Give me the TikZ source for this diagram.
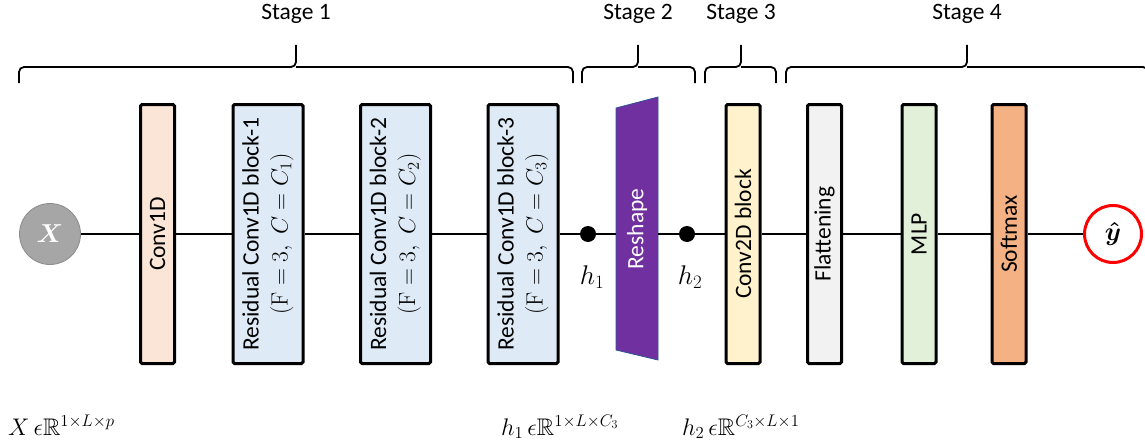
\RequirePackage{fix-cm}
\documentclass[tikz,border=0pt]{standalone}
\usepackage{amsmath,amssymb}
\usepackage[no-math]{fontspec}
\setmainfont{Carlito}
\newcommand\bsz{\fontsize{23.5pt}{29pt}\selectfont}
\newcommand\msz{\fontsize{24pt}{29pt}\selectfont}
\newcommand\hsz{\fontsize{27pt}{31pt}\selectfont}
\newcommand\bigsz{\fontsize{26pt}{30pt}\selectfont}
\definecolor{cconv}{HTML}{FBE5D6}
\definecolor{cres}{HTML}{DEEBF7}
\definecolor{cctwo}{HTML}{FFF2CC}
\definecolor{cflat}{HTML}{F2F2F2}
\definecolor{cmlp}{HTML}{E2F0D9}
\definecolor{csoft}{HTML}{F4B183}
\definecolor{cpurp}{HTML}{7030A0}
\definecolor{cpurpedge}{HTML}{2F5597}
\definecolor{cgrayfill}{HTML}{A6A6A6}
\definecolor{cgrayedge}{HTML}{8C8C8C}
\definecolor{cred}{HTML}{FF0000}
\begin{document}
\begin{tikzpicture}[x=1pt,y=-1pt,
  conn/.style={line width=2.8pt},
  blk/.style={draw, line width=3pt, rounded corners=1.5pt, rotate=90, minimum width=259pt, inner sep=0pt, align=center, font=\bsz},
  thinblk/.style={blk, minimum height=34pt},
  wideblk/.style={blk, minimum height=70pt},
  bracepath/.style={line width=1.8pt, rounded corners=5pt},
  stg/.style={font=\bsz},
  dotnode/.style={circle, fill=black, inner sep=0pt, minimum size=16pt},
  mathlbl/.style={font=\msz, inner sep=0pt},
  hlbl/.style={font=\hsz, inner sep=0pt},
  innode/.style={circle, fill=cgrayfill, draw=cgrayedge, line width=0.8pt, minimum size=61pt, inner sep=0pt, text=white, font=\bigsz},
  outnode/.style={circle, fill=white, draw=cred, line width=3pt, minimum size=57pt, inner sep=0pt, font=\bigsz},
]
\useasboundingbox (0,0) rectangle (1145,444);
\clip (0,0) rectangle (1145,444);

% stage labels
\node[stg] (s1) at (296,14) {Stage 1};
\node[stg] (s2) at (638,14) {Stage 2};
\node[stg] (s3) at (741,14) {Stage 3};
\node[stg] (s4) at (967,14) {Stage 4};

% braces
\draw[bracepath] (19,83) -- (19,67) -- (296,67) -- (296,45);
\draw[bracepath] (573,83) -- (573,67) -- (296,67);
\draw[bracepath] (582,83) -- (582,67) -- (638,67) -- (638,45);
\draw[bracepath] (695,83) -- (695,67) -- (638,67);
\draw[bracepath] (705,83) -- (705,67) -- (741,67) -- (741,45);
\draw[bracepath] (776,83) -- (776,67) -- (741,67);
\draw[bracepath] (786,83) -- (786,67) -- (967,67) -- (967,45);
\draw[bracepath] (1148,83) -- (1148,67) -- (967,67);

% reshape trapezoid
\draw[fill=cpurp, draw=cpurpedge, line width=0.8pt] (616,108) -- (658,97) -- (658,360) -- (616,350) -- cycle;
\node[inner sep=0pt, minimum width=42pt, minimum height=250pt] (rs) at (637,234) {};
\node[rotate=90, text=white, font=\bsz] (rst) at (637,229) {Reshape};

% input / output
\node[innode] (X) at (50,234) {$\boldsymbol{X}$};
\node[outnode] (yh) at (1113,234) {$\boldsymbol{\hat{y}}$};

% blocks
\node[thinblk, fill=cconv] (c1) at (157.5,234) {Conv1D};
\node[wideblk, fill=cres] (r1) at (268,234) {Residual Conv1D block-1\\$(\mathrm{F}=3,\; C=C_1)$};
\node[wideblk, fill=cres] (r2) at (395.5,234) {Residual Conv1D block-2\\$(\mathrm{F}=3,\; C=C_2)$};
\node[wideblk, fill=cres] (r3) at (523,234) {Residual Conv1D block-3\\$(\mathrm{F}=3,\; C=C_3)$};
\node[thinblk, fill=cctwo] (c2) at (743,234) {Conv2D block};
\node[thinblk, fill=cflat] (fl) at (824.5,234) {Flattening};
\node[thinblk, fill=cmlp] (mlp) at (919,234) {MLP};
\node[thinblk, fill=csoft] (sm) at (1009,234) {Softmax};

% dots
\node[dotnode] (h1) at (588,234) {};
\node[dotnode] (h2) at (687,234) {};
\node[hlbl] (h1l) at (592,277) {$h_1$};
\node[hlbl] (h2l) at (690,277) {$h_2$};

% connectors
\draw[conn] (X) -- (c1);
\draw[conn] (c1) -- (r1);
\draw[conn] (r1) -- (r2);
\draw[conn] (r2) -- (r3);
\draw[conn] (r3) -- (h1);
\draw[conn] (h1) -- (rs);
\draw[conn] (rs) -- (h2);
\draw[conn] (h2) -- (c2);
\draw[conn] (c2) -- (fl);
\draw[conn] (fl) -- (mlp);
\draw[conn] (mlp) -- (sm);
\draw[conn] (sm) -- (yh);

% bottom shape labels
\node[mathlbl, anchor=base west] (xs) at (8,435) {$X\,\epsilon\mathbb{R}^{1\times L\times p}$};
\node[mathlbl, anchor=base west] (h1s) at (501,435) {$h_1\,\epsilon\mathbb{R}^{1\times L\times C_3}$};
\node[mathlbl, anchor=base west] (h2s) at (682,435) {$h_2\,\epsilon\mathbb{R}^{C_3\times L\times 1}$};
\end{tikzpicture}
\end{document}
